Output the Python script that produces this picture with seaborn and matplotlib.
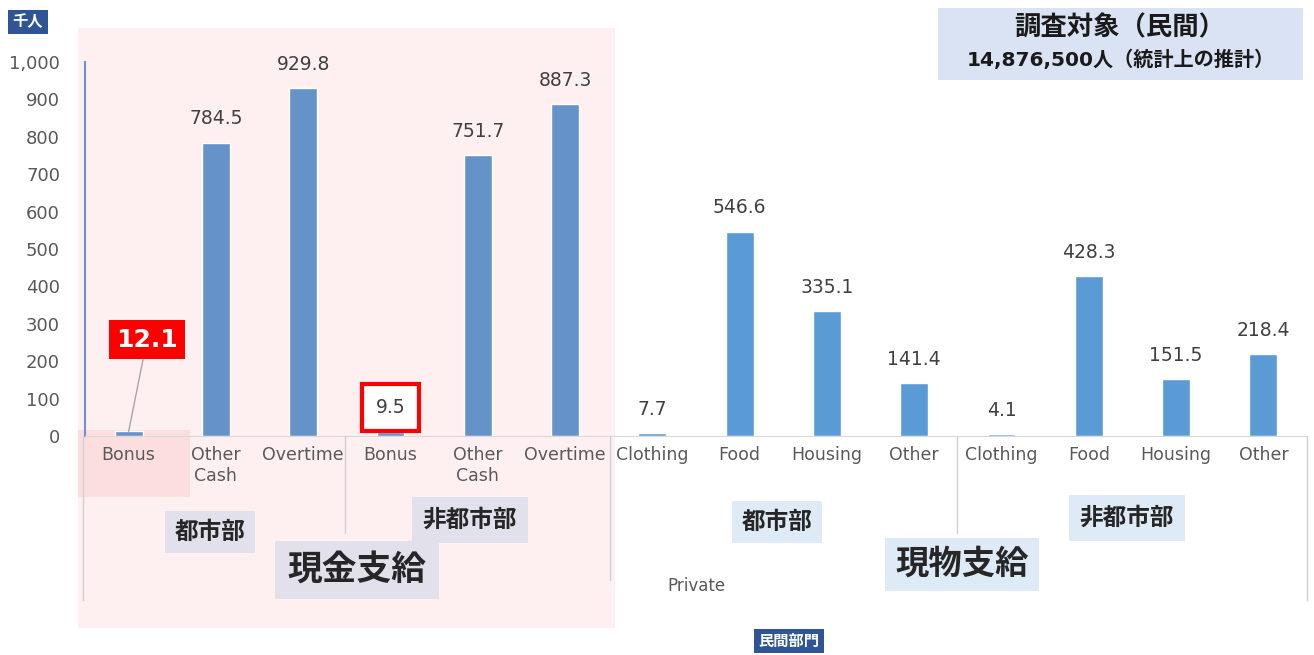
import matplotlib
matplotlib.use("Agg")
import matplotlib.pyplot as plt
import seaborn as sns
import pandas as pd
from matplotlib.patches import Rectangle
from matplotlib.lines import Line2D

sns.set_style("white")
plt.rcParams["font.family"] = ["DejaVu Sans", "Noto Sans CJK JP"]

# === Data ===
categories = ["Bonus", "Other\nCash", "Overtime", "Bonus", "Other\nCash", "Overtime",
              "Clothing", "Food", "Housing", "Other", "Clothing", "Food", "Housing", "Other"]
values = [12.1, 784.5, 929.8, 9.5, 751.7, 887.3,
          7.7, 546.6, 335.1, 141.4, 4.1, 428.3, 151.5, 218.4]
pay_type = ["現金支給"] * 6 + ["現物支給"] * 8
area = ["都市部"] * 3 + ["非都市部"] * 3 + ["都市部"] * 4 + ["非都市部"] * 4
yticks = [0, 100, 200, 300, 400, 500, 600, 700, 800, 900, 1000]

df = pd.DataFrame({
    "key": [f"{i:02d}" for i in range(len(values))],
    "label": categories,
    "value": values,
    "type": pay_type,
    "area": area,
})

W, H = 1314, 655


def px(x, y):
    return x / W, 1 - y / H


fig = plt.figure(figsize=(W / 100, H / 100), dpi=100)

# pink background for cash section
fig.patches.append(Rectangle(px(78, 628), 537 / W, 600 / H, transform=fig.transFigure,
                             facecolor="#fef0f0", edgecolor="none", zorder=-2))
fig.patches.append(Rectangle(px(78, 497), 112 / W, 67 / H, transform=fig.transFigure,
                             facecolor="#fcdada", edgecolor="none", zorder=-1, alpha=0.8))

ax = fig.add_axes([85 / W, 1 - 436 / H, (1307 - 85) / W, (436 - 62) / H])
ax.patch.set_alpha(0)

sns.barplot(data=df, x="key", y="value", hue="type", dodge=False, width=0.32,
            palette={"現金支給": "#6592c9", "現物支給": "#5b9bd5"}, legend=False,
            saturation=1, ax=ax)

ax.set_ylim(0, 1000)
ax.set_yticks(yticks)
ax.set_yticklabels([f"{t:,}" for t in yticks])
ax.set_xticks(range(len(categories)))
ax.set_xticklabels(categories)
ax.set_xlabel("")
ax.set_ylabel("")

for s in ["top", "right"]:
    ax.spines[s].set_visible(False)
ax.spines["left"].set_color("#7090d4")
ax.spines["left"].set_linewidth(1.5)
ax.spines["bottom"].set_color("#d9d9d9")
ax.tick_params(axis="y", direction="in", length=4, width=1.2, color="#7090d4", pad=18,
               labelsize=13, labelcolor="#595959")
ax.tick_params(axis="x", length=0, pad=7, labelsize=12.5, labelcolor="#595959")

# value labels
for i, v in enumerate(values):
    if i in (0, 3):
        continue
    ax.annotate(f"{v:.1f}", xy=(i, v), xytext=(0, 17), textcoords="offset points",
                ha="center", va="center", fontsize=13.5, color="#404040")

ax.annotate("12.1", xy=(0, values[0]), xytext=(0.21, 257), ha="center", va="center",
            fontsize=18, fontweight="bold", color="white",
            bbox=dict(boxstyle="square,pad=0.3", facecolor="#ff0000", edgecolor="none"),
            arrowprops=dict(arrowstyle="-", color="#a6a6a6", lw=1, shrinkA=0, shrinkB=0))
ax.annotate("9.5", xy=(3, values[3]), xytext=(0, 18), textcoords="offset points",
            ha="center", va="center", fontsize=13.5, color="#404040",
            bbox=dict(boxstyle="square,pad=0.75", facecolor="white", edgecolor="#ff0000", lw=3))

# category separators below axis
for x, y2 in [(83, 600), (345, 533), (610, 580), (957, 533), (1307, 600)]:
    fig.add_artist(Line2D([x / W, x / W], [1 - 436 / H, 1 - y2 / H],
                          transform=fig.transFigure, color="#d0d0d0", lw=1))

# group labels
cash_box = dict(boxstyle="square,pad=0.4", facecolor="#e1e0eb", edgecolor="none")
kind_box = dict(boxstyle="square,pad=0.4", facecolor="#deeaf6", edgecolor="none")
fig.text(*px(210, 532), "都市部", ha="center", va="center", fontsize=17, fontweight="bold", bbox=cash_box)
fig.text(*px(470, 520), "非都市部", ha="center", va="center", fontsize=17, fontweight="bold",
         bbox=dict(boxstyle="square,pad=0.45", facecolor="#e1e0eb", edgecolor="none"))
fig.text(*px(357, 570), "現金支給", ha="center", va="center", fontsize=25, fontweight="bold",
         bbox=dict(boxstyle="square,pad=0.35", facecolor="#e1e0eb", edgecolor="none"))
fig.text(*px(777, 522), "都市部", ha="center", va="center", fontsize=17, fontweight="bold", bbox=kind_box)
fig.text(*px(1127, 518), "非都市部", ha="center", va="center", fontsize=17, fontweight="bold",
         bbox=dict(boxstyle="square,pad=0.45", facecolor="#deeaf6", edgecolor="none"))
fig.text(*px(962, 564), "現物支給", ha="center", va="center", fontsize=24, fontweight="bold",
         bbox=dict(boxstyle="square,pad=0.3", facecolor="#deeaf6", edgecolor="none"))
fig.text(*px(696, 586), "Private", ha="center", va="center", fontsize=12, color="#595959")

fig.text(*px(789, 641), "民間部門", ha="center", va="center", fontsize=11, fontweight="bold",
         color="white", bbox=dict(boxstyle="square,pad=0.3", facecolor="#2f5597", edgecolor="none"))
fig.text(*px(28, 22), "千人", ha="center", va="center", fontsize=11, fontweight="bold",
         color="white", bbox=dict(boxstyle="square,pad=0.3", facecolor="#2f5597", edgecolor="none"))

# survey box
fig.patches.append(Rectangle(px(938, 80), 365 / W, 72 / H, transform=fig.transFigure,
                             facecolor="#dae3f3", edgecolor="none", zorder=-1))
fig.text(*px(1120, 28), "調査対象（民間）", ha="center", va="center", fontsize=19, fontweight="bold",
         color="#1a1a1a")
fig.text(*px(1121, 60), "14,876,500人（統計上の推計）", ha="center", va="center", fontsize=14.5,
         fontweight="bold", color="#1a1a1a")

fig.savefig("out.png", dpi=100)
